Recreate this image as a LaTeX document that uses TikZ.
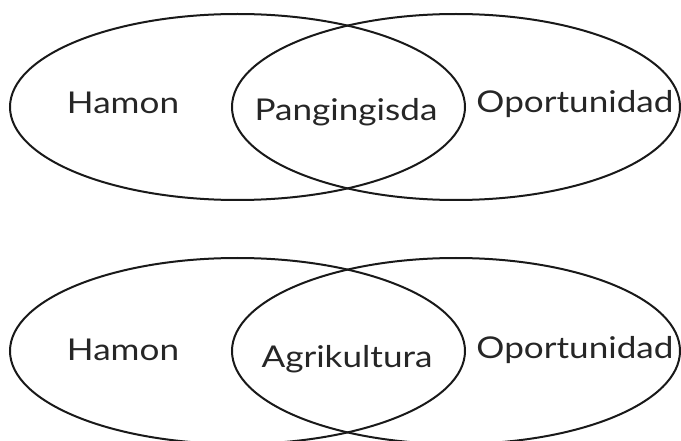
\documentclass[tikz,border=0pt]{standalone}
\usepackage{fontspec}
\setmainfont{Lato}
\usetikzlibrary{shapes.geometric}
\newcommand\widetext[1]{\scalebox{1.17}[1]{#1}}
\tikzset{
  venn/.style={draw=black!90, line width=2pt},
  lbl/.style={anchor=base, inner sep=0pt, text=black!85, font=\fontsize{30}{36}\selectfont}
}
\begin{document}
\begin{tikzpicture}[x=1pt,y=-1pt]
\useasboundingbox (0,0) rectangle (681,441);
% top diagram
\draw[venn] (237.5,107) ellipse [x radius=227.5, y radius=93];
\draw[venn] (456,107) ellipse [x radius=224, y radius=93];
\node[lbl] (hamonA) at (123,114) {\widetext{Hamon}};
\node[lbl] (pang) at (346,121) {\widetext{Pangingisda}};
\node[lbl] (oporA) at (575,113) {\widetext{Oportunidad}};
% bottom diagram
\draw[venn] (237.5,351) ellipse [x radius=227.5, y radius=93];
\draw[venn] (456,351) ellipse [x radius=224, y radius=93];
\node[lbl] (hamonB) at (123,360) {\widetext{Hamon}};
\node[lbl] (agri) at (347,367) {\widetext{Agrikultura}};
\node[lbl] (oporB) at (575,358) {\widetext{Oportunidad}};
\end{tikzpicture}
\end{document}
